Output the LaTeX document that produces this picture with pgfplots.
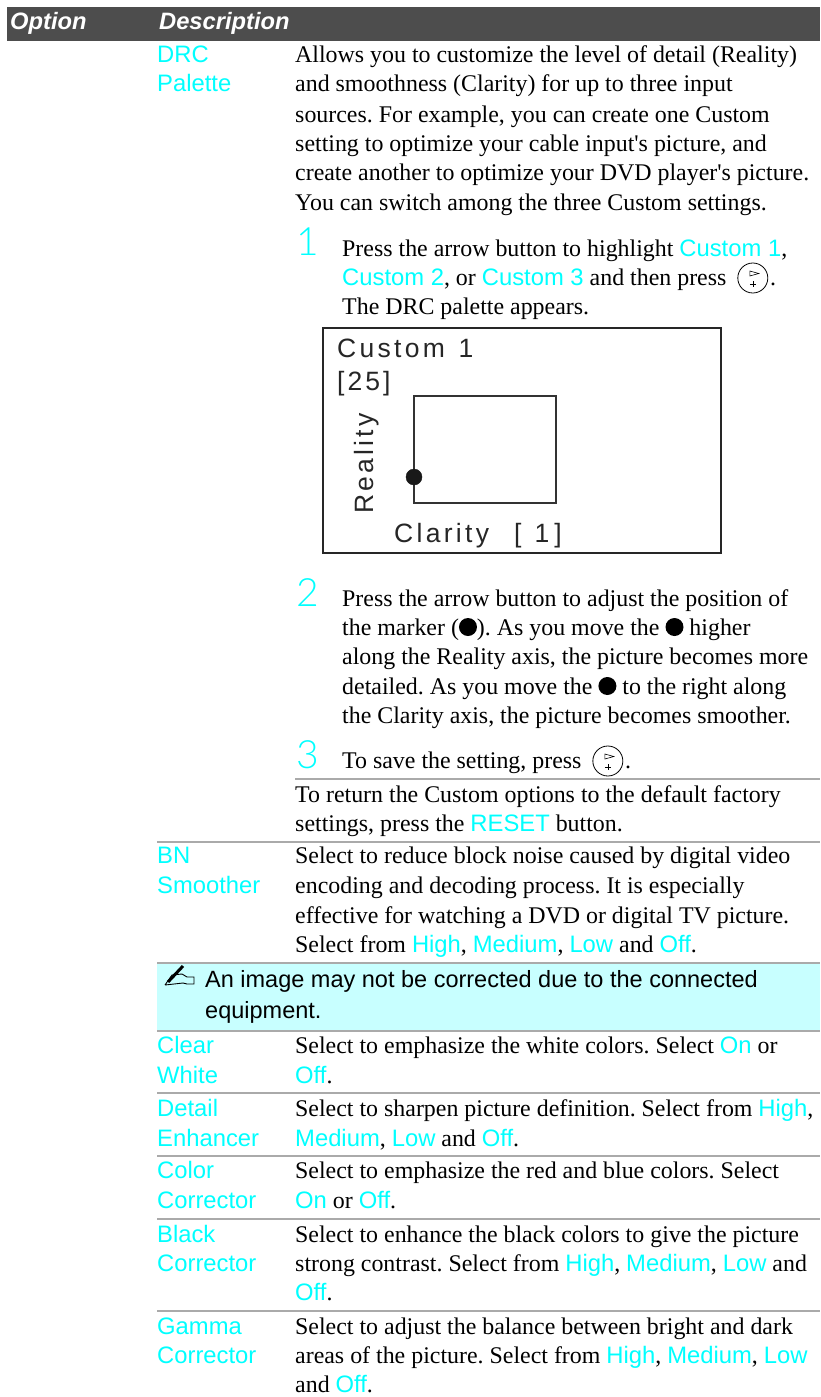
\documentclass[border=0pt]{standalone}
\usepackage{pgfplots}
\pgfplotsset{compat=1.18}
\usepackage{fontspec}
\setmainfont{Liberation Serif}
\newfontfamily\hv{Liberation Sans}
\newfontfamily\thn{Lato Light}
\frenchspacing
\definecolor{cy}{HTML}{00FFFF}
\definecolor{hd}{HTML}{4D4D4D}
\definecolor{rl}{HTML}{AAAAAA}
\definecolor{nb}{HTML}{C8FFFF}
\newcommand{\Cy}[1]{{\hv\fontsize{23.8}{28}\selectfont\color{cy}#1}}
\newcommand{\Bu}{\tikz[baseline=-8pt,x=1pt,y=1pt]{\fill[black] (0,0) circle (9);}}
\newcommand{\Ke}{\kern5pt\tikz[baseline=-7pt,x=1pt,y=1pt]{\draw[black,line width=0.8pt] (0,0) circle (15); \draw[black,line width=0.6pt] (-3,7)--(6,4.5)--(-3,2)--cycle; \draw[black,line width=0.4pt] (-3,-5.7)--(3,-5.7) (0,-8.7)--(0,-2.7);}\kern2pt}
\newcommand{\Tx}[3]{\node[anchor=base west,inner sep=0pt,font=\fontsize{23.9}{28}\selectfont] at (#1,#2) {#3};}
\newcommand{\Lb}[3]{\node[anchor=base west,inner sep=0pt] at (#1,#2) {\Cy{#3}};}
\newcommand{\Sp}[3]{\node[anchor=base west,inner sep=0pt,text=cy,font=\thn\fontsize{39}{40}\selectfont] at (#1,#2) {#3};}
\begin{document}
\begin{tikzpicture}
\begin{axis}[
  hide axis, scale only axis, width=820pt, height=1397pt,
  xmin=0, xmax=820, ymin=0, ymax=1397, y dir=reverse, clip=false]
\addplot[draw=none,fill=white] coordinates {(0,0)(820,0)(820,1397)(0,1397)} --cycle;
\addplot[draw=none,fill=hd] coordinates {(7,7)(820,7)(820,41)(7,41)} --cycle;
\addplot[draw=none,fill=nb] coordinates {(157,963)(820,963)(820,1031)(157,1031)} --cycle;
\addplot[rl,line width=1.4pt] coordinates {(295,779)(820,779)};
\addplot[rl,line width=1.4pt] coordinates {(157,842)(820,842)};
\addplot[rl,line width=1.4pt] coordinates {(157,963)(820,963)};
\addplot[rl,line width=1.4pt] coordinates {(157,1031)(820,1031)};
\addplot[rl,line width=1.4pt] coordinates {(157,1093)(820,1093)};
\addplot[rl,line width=1.4pt] coordinates {(157,1156)(820,1156)};
\addplot[rl,line width=1.4pt] coordinates {(157,1219)(820,1219)};
\addplot[rl,line width=1.4pt] coordinates {(157,1311)(820,1311)};
% DRC palette
\addplot[black!85,line width=2.4pt] coordinates {(323,328)(721,328)(721,553)(323,553)} --cycle;
\addplot[black!80,line width=1.3pt] coordinates {(414,396)(556,396)(556,503)(414,503)} --cycle;
\addplot[only marks,mark=*,mark size=8pt,color=black!90] coordinates {(414,477)};
\node[anchor=base west,inner sep=0pt,text=white,font=\hv\bfseries\itshape\fontsize{23.7}{28}\selectfont] at (10,30) {Option};
\node[anchor=base west,inner sep=0pt,text=white,font=\hv\bfseries\itshape\fontsize{23.7}{28}\selectfont] at (159,30) {Description};
\Lb{157}{63}{DRC}
\Lb{157}{92}{Palette}
\Tx{295}{63}{Allows you to customize the level of detail (Reality)}
\Tx{295}{92}{and smoothness (Clarity) for up to three input}
\Tx{295}{122}{sources. For example, you can create one Custom}
\Tx{295}{151}{setting to optimize your cable input\textquotesingle s picture, and}
\Tx{295}{180}{create another to optimize your DVD player\textquotesingle s picture.}
\Tx{295}{210}{You can switch among the three Custom settings.}
\Sp{296}{255}{1}
\Tx{342}{256}{Press the arrow button to highlight \Cy{Custom 1},}
\Tx{342}{285}{\Cy{Custom 2}, or \Cy{Custom 3} and then press \Ke.}
\Tx{342}{314}{The DRC palette appears.}
\node[anchor=base west,inner sep=0pt,font=\hv\fontsize{26.5}{30}\selectfont,text=black!85] at (337,357) {C\kern3.3pt u\kern3.3pt s\kern3.3pt t\kern3.3pt o\kern3.3pt m\kern3.3pt\ \kern3pt 1};
\node[anchor=base west,inner sep=0pt,font=\hv\fontsize{26.5}{30}\selectfont,text=black!85] at (337,390) {[\kern3pt 2\kern3pt 5\kern3pt ]};
\node[anchor=base west,inner sep=0pt,font=\hv\fontsize{26.5}{30}\selectfont,text=black!85,rotate=90] at (373,514) {R\kern3.2pt e\kern3.2pt a\kern3.2pt l\kern3.2pt i\kern3.2pt t\kern3.2pt y};
\node[anchor=base west,inner sep=0pt,font=\hv\fontsize{26.5}{30}\selectfont,text=black!85] at (394,542) {C\kern3.3pt l\kern3.3pt a\kern3.3pt r\kern3.3pt i\kern3.3pt t\kern3.3pt y};
\node[anchor=base west,inner sep=0pt,font=\hv\fontsize{26.5}{30}\selectfont,text=black!85] at (514,542) {[\kern13pt 1\kern5pt ]};
\Sp{296}{606}{2}
\Tx{342}{606}{Press the arrow button to adjust the position of}
\Tx{342}{635}{the marker (\Bu). As you move the \Bu\ higher}
\Tx{342}{664}{along the Reality axis, the picture becomes more}
\Tx{342}{694}{detailed. As you move the \Bu\ to the right along}
\Tx{342}{723}{the Clarity axis, the picture becomes smoother.}
\Sp{296}{768}{3}
\Tx{342}{768}{To save the setting, press \Ke.}
\Tx{295}{802}{To return the Custom options to the default factory}
\Tx{295}{831}{settings, press the \Cy{RESET} button.}
\Lb{157}{863}{BN}
\Lb{157}{893}{Smoother}
\Tx{295}{863}{Select to reduce block noise caused by digital video}
\Tx{295}{893}{encoding and decoding process. It is especially}
\Tx{295}{923}{effective for watching a DVD or digital TV picture.}
\Tx{295}{952}{Select from \Cy{High}, \Cy{Medium}, \Cy{Low} and \Cy{Off}.}
\node[anchor=base west,inner sep=0pt,font=\hv\fontsize{23.5}{26}\selectfont] at (205,987) {An image may not be corrected due to the connected};
\node[anchor=base west,inner sep=0pt,font=\hv\fontsize{23.5}{26}\selectfont] at (205,1018) {equipment.};
% note pencil icon
\addplot[black,line width=0.9pt] coordinates {(165,985)(172,975)(182,974)(187,977)(194,977)(194,984)(187,984)(183,983)(165,985)};
\addplot[black,line width=3pt] coordinates {(168,982)(183,966)};
\Lb{157}{1053}{Clear}
\Lb{157}{1083}{White}
\Tx{295}{1053}{Select to emphasize the white colors. Select \Cy{On} or}
\Tx{295}{1083}{\Cy{Off}.}
\Lb{157}{1116}{Detail}
\Lb{157}{1146}{Enhancer}
\Tx{295}{1116}{Select to sharpen picture definition. Select from \Cy{High},}
\Tx{295}{1146}{\Cy{Medium}, \Cy{Low} and \Cy{Off}.}
\Lb{157}{1178}{Color}
\Lb{157}{1208}{Corrector}
\Tx{295}{1178}{Select to emphasize the red and blue colors. Select}
\Tx{295}{1208}{\Cy{On} or \Cy{Off}.}
\Lb{157}{1242}{Black}
\Lb{157}{1271}{Corrector}
\Tx{295}{1242}{Select to enhance the black colors to give the picture}
\Tx{295}{1271}{strong contrast. Select from \Cy{High}, \Cy{Medium}, \Cy{Low} and}
\Tx{295}{1300}{\Cy{Off}.}
\Lb{157}{1334}{Gamma}
\Lb{157}{1363}{Corrector}
\Tx{295}{1334}{Select to adjust the balance between bright and dark}
\Tx{295}{1363}{areas of the picture. Select from \Cy{High}, \Cy{Medium}, \Cy{Low}}
\Tx{295}{1392}{and \Cy{Off}.}
\end{axis}
\end{tikzpicture}
\end{document}
